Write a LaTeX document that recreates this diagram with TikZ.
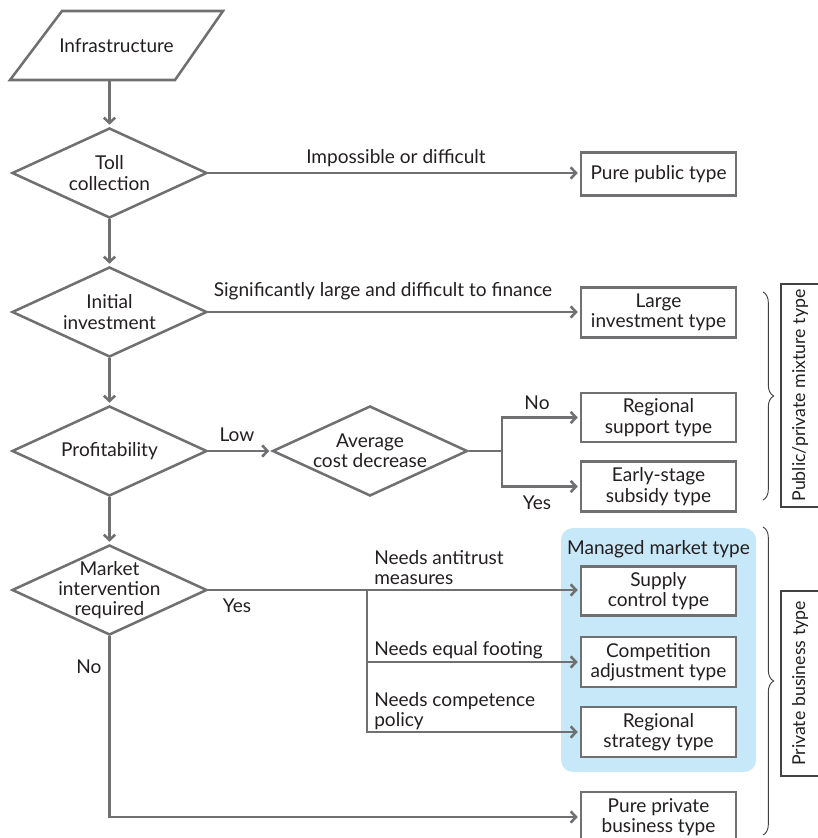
\documentclass[tikz,border=0pt]{standalone}
\usepackage{fontspec}
\setmainfont{Lato}
\usetikzlibrary{arrows.meta,shapes.geometric,decorations.pathreplacing}
\definecolor{linegray}{RGB}{112,112,114}
\definecolor{txt}{RGB}{35,31,32}
\definecolor{mgdblue}{RGB}{198,232,248}

\begin{document}
\begin{tikzpicture}[x=0.75pt,y=-0.75pt,
  every node/.style={font=\fontsize{14.3}{15.2}\selectfont, text=txt},
  conn/.style={draw=linegray, line width=1.9pt},
  arr/.style={conn, -{Straight Barb[length=4pt,width=8.5pt]}, shorten >=1.5pt},
  dia/.style={shape=diamond, draw=linegray, line width=1.9pt,
    minimum width=146.25pt, minimum height=67.5pt, inner sep=0pt},
  dtext/.style={align=center, inner sep=0pt},
  typebox/.style={draw=linegray, line width=1.9pt, fill=white, align=center,
    minimum width=116.25pt, minimum height=37.5pt, inner sep=1pt},
  lbl/.style={inner sep=0pt, align=left},
  sidebox/.style={draw=txt!85, line width=0.8pt, rotate=90,
    font=\fontsize{13.3}{15}\selectfont,
    minimum height=28.5pt, inner sep=0pt},
  brc/.style={draw=txt!85, line width=0.7pt,
    decorate, decoration={brace, amplitude=8pt}}
]
\useasboundingbox (0,0) rectangle (817,838);

% managed market background
\fill[mgdblue, rounded corners=9pt] (561,528) rectangle (756,772);
\node[inner sep=0pt] (mgd) at (658.5,549) {Managed market type};

% start: parallelogram
\draw[linegray, line width=1.9pt, line join=miter] (62,11) -- (223,11) -- (175,80) -- (10,80) -- cycle;
\node[minimum height=51.75pt, inner sep=0pt] (infra) at (116.5,45.5) {Infrastructure};

% decisions
\node[dia] (toll) at (109.5,173) {};
\node[dtext] at (toll) {Toll\\collection};
\node[dia] (init) at (109.5,312) {};
\node[dtext] at (init) {Initial\\investment};
\node[dia] (profit) at (109.5,451) {};
\node[dtext] at (profit) {Profitability};
\node[dia] (market) at (109.5,590) {};
\node[dtext] at (market) {Market\\intervention\\required};
\node[dia] (avg) at (370,451) {};
\node[dtext] at (avg) {Average\\cost decrease};

% outcome types
\node[typebox, minimum height=32.25pt] (public) at (658.5,174) {Pure public type};
\node[typebox] (large) at (658.5,312.5) {Large\\investment type};
\node[typebox, minimum height=36.75pt] (regsup) at (658.5,417.5) {Regional\\support type};
\node[typebox] (early) at (658.5,486.5) {Early-stage\\subsidy type};
\node[typebox, minimum height=36.75pt] (supply) at (658.5,591) {Supply\\control type};
\node[typebox] (compete) at (658.5,662) {Competition\\adjustment type};
\node[typebox] (regstrat) at (658.5,732) {Regional\\strategy type};
\node[typebox] (private) at (658.5,817) {Pure private\\business type};

% branch points
\coordinate (br1) at (502,451);
\coordinate (br2) at (367,590);

% flow
\draw[arr] (infra.south -| toll.north) -- (toll.north);
\draw[arr] (toll.east) -- (toll.east -| public.west);
\draw[arr] (toll.south) -- (init.north);
\draw[arr] (init.east) -- (init.east -| large.west);
\draw[arr] (init.south) -- (profit.north);
\draw[arr] (profit.east) -- (avg.west);
\draw[conn] (avg.east) -- (br1);
\draw[arr] (br1) |- (regsup.west);
\draw[arr] (br1) |- (early.west);
\draw[arr] (profit.south) -- (market.north);
\draw[arr] (market.east) -- (market.east -| supply.west);
\draw[arr] (br2) |- (compete.west);
\draw[arr] (br2) |- (regstrat.west);
\draw[arr] (market.south) |- (private.west);

% connector labels
\node[lbl] (l1) at (396,158) {Impossible or difficult};
\node[lbl] (l2) at (383,291) {Significantly large and difficult to finance};
\node[lbl] (l3) at (237,435) {Low};
\node[lbl] (l4) at (537,403) {No};
\node[lbl] (l5) at (537,503) {Yes};
\node[lbl] (l6) at (237,606) {Yes};
\node[lbl] (l7) at (89,667) {No};
\node[lbl, anchor=west] (l8) at (374,567.5) {Needs antitrust\\measures};
\node[lbl, anchor=west] (l9) at (374,650) {Needs equal footing};
\node[lbl, anchor=west] (l10) at (374,711) {Needs competence\\policy};

% groupings on the right
\draw[brc] (763,292) -- (763,500);
\draw[brc] (763,527) -- (763,835);
\node[sidebox, minimum width=167.25pt] (mix) at (800,395.5) {Public/private mixture type};
\node[sidebox, minimum width=138.75pt] (priv) at (800,683.5) {Private business type};
\end{tikzpicture}
\end{document}
